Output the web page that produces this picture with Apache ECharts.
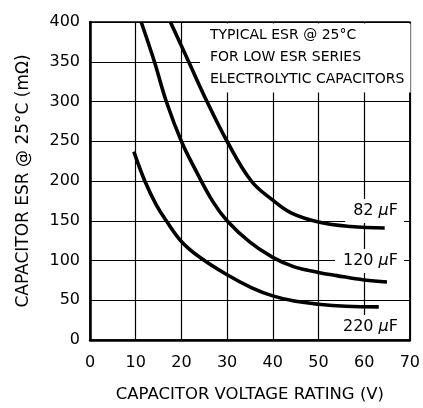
<!DOCTYPE html>
<html><head><meta charset="utf-8">
<script src="https://cdn.jsdelivr.net/npm/echarts@6/dist/echarts.min.js"></script>
<style>html,body{margin:0;padding:0;background:#fff}#c{width:423px;height:408px}</style>
</head><body><div id="c"></div>
<script>
// Voltage rating (V) and ESR (mOhm)
const v82 = [17.6, 21.6, 25.6, 30, 35.3, 40, 44, 50, 57, 64.5];
const esr82 = [400, 350, 300, 250, 200, 176, 160, 148.5, 142.8, 140.8];
const v120 = [11.2, 14.1, 16.7, 20, 23, 26.9, 30, 35, 40, 44.7, 50, 54, 60, 65];
const esr120 = [400, 350, 300, 250, 215, 174, 150, 123, 104, 92, 85, 81, 75.5, 73];
const v220 = [9.6, 12, 14.5, 16.7, 20, 23.8, 30, 35.3, 40, 44.7, 50, 56, 63.2];
const esr220 = [237, 200, 170, 150, 124, 105, 82, 66, 55.5, 49, 45, 42.5, 41.7];
const xTicks = [0, 10, 20, 30, 40, 50, 60, 70];
const yTicks = [0, 50, 100, 150, 200, 250, 300, 350, 400];
const seriesNames = ['82 μF', '120 μF', '220 μF'];
const noteLines = ['TYPICAL ESR @ 25°C', 'FOR LOW ESR SERIES', 'ELECTROLYTIC CAPACITORS'];
const xName = 'CAPACITOR VOLTAGE RATING (V)';
const yName = 'CAPACITOR ESR @ 25°C (mΩ)';

const FF = 'DejaVu Sans';
const zip = (a, b) => a.map((x, i) => [x, b[i]]);
const chart = echarts.init(document.getElementById('c'), null, {renderer: 'canvas'});
const lineSeries = (name, data) => ({
  name, type: 'line', data, smooth: 0.4, showSymbol: false, z: 5,
  lineStyle: {color: '#000', width: 3.6, join: 'round', cap: 'butt'}, animation: false
});
const muLabel = (txt) => txt.replace('μ', '{m|μ}');
const labelStyle = {fontSize: 16, fontFamily: FF, fill: '#000'};
const curveLabel = (txt, y) => ({type: 'text', z: 2, style: Object.assign({x: 404, y, text: muLabel(txt), align: 'right', verticalAlign: 'middle', backgroundColor: '#fff', padding: [4, 6, 4, 8], rich: {m: {fontStyle: 'italic', fontSize: 16, fontFamily: FF}}}, labelStyle)});
const noteLine = (txt, y) => ({type: 'text', z: 2, style: Object.assign({x: 210, y, text: txt, verticalAlign: 'middle'}, labelStyle, {fontSize: 14})});
chart.setOption({
  animation: false,
  backgroundColor: '#fff',
  grid: {left: 90, top: 22, right: 10.5, bottom: 65, show: true, borderColor: '#000', borderWidth: 1.5, backgroundColor: 'transparent'},
  xAxis: {
    type: 'value', min: xTicks[0], max: xTicks[xTicks.length - 1], interval: 10,
    name: xName, nameLocation: 'middle', nameGap: 46,
    nameTextStyle: {fontFamily: FF, fontSize: 16.5, color: '#000'},
    axisLine: {show: true, onZero: false, lineStyle: {color: '#000', width: 2.5}},
    axisTick: {show: false},
    axisLabel: {fontFamily: FF, fontSize: 16, color: '#000', margin: 15},
    splitLine: {show: true, lineStyle: {color: '#000', width: 1.2}}
  },
  yAxis: {
    type: 'value', min: yTicks[0], max: yTicks[yTicks.length - 1], interval: 50,
    name: yName, nameLocation: 'middle', nameGap: 58,
    nameTextStyle: {fontFamily: FF, fontSize: 17, color: '#000'},
    axisLine: {show: true, onZero: false, lineStyle: {color: '#000', width: 2.5}},
    axisTick: {show: false},
    axisLabel: {fontFamily: FF, fontSize: 16, color: '#000', margin: 10},
    splitLine: {show: true, lineStyle: {color: '#000', width: 1.2}}
  },
  graphic: [
    {type: 'rect', z: 1, shape: {x: 200, y: 23.5, width: 210.5, height: 69}, style: {fill: '#fff'}},
    noteLine(noteLines[0], 35),
    noteLine(noteLines[1], 57),
    noteLine(noteLines[2], 79),
    curveLabel(seriesNames[0], 211),
    curveLabel(seriesNames[1], 261),
    curveLabel(seriesNames[2], 327)
  ],
  series: [
    lineSeries(seriesNames[0], zip(v82, esr82)),
    lineSeries(seriesNames[1], zip(v120, esr120)),
    lineSeries(seriesNames[2], zip(v220, esr220))
  ]
});
</script></body></html>
